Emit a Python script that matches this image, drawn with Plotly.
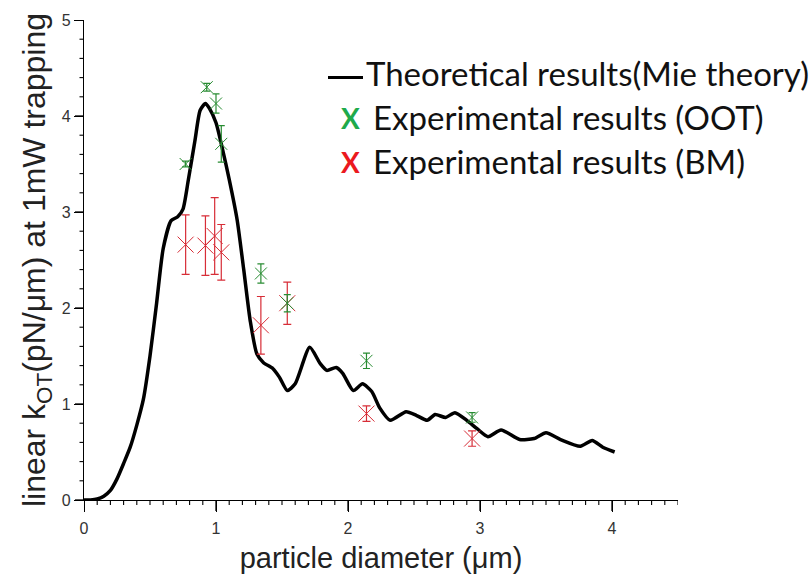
import plotly.graph_objects as go

# ---------------- data ----------------
theory_x = [0.0, 0.05, 0.1, 0.15, 0.2, 0.25, 0.3, 0.35, 0.4, 0.45, 0.5, 0.55, 0.6, 0.66,
            0.71, 0.75, 0.79, 0.84, 0.88, 0.92, 0.95, 1.0, 1.05, 1.1, 1.16, 1.21, 1.26,
            1.31, 1.36, 1.43, 1.48, 1.54, 1.6, 1.71, 1.79, 1.84, 1.91, 1.96, 2.04, 2.11,
            2.18, 2.24, 2.32, 2.44, 2.52, 2.6, 2.66, 2.74, 2.81, 2.9, 2.98, 3.06, 3.16,
            3.3, 3.41, 3.5, 3.61, 3.76, 3.85, 3.93, 4.02]
theory_y = [0.0, 0.0, 0.01, 0.04, 0.1, 0.22, 0.38, 0.55, 0.78, 1.05, 1.5, 2.05, 2.62, 2.91,
            2.95, 3.03, 3.33, 3.74, 4.06, 4.13, 4.08, 3.93, 3.65, 3.34, 2.92, 2.4, 1.86,
            1.52, 1.43, 1.37, 1.28, 1.14, 1.21, 1.59, 1.42, 1.35, 1.38, 1.32, 1.14, 1.21,
            1.13, 0.96, 0.83, 0.92, 0.88, 0.83, 0.89, 0.86, 0.91, 0.83, 0.74, 0.66, 0.73,
            0.63, 0.64, 0.7, 0.63, 0.56, 0.62, 0.55, 0.5]

oot_x = [0.77, 0.93, 1.00, 1.04, 1.34, 1.54, 2.14, 2.94]
oot_y = [3.50, 4.30, 4.13, 3.71, 2.36, 2.05, 1.45, 0.86]
oot_err = [0.03, 0.04, 0.10, 0.19, 0.10, 0.09, 0.08, 0.05]

bm_x = [0.77, 0.92, 0.99, 1.04, 1.34, 1.54, 2.14, 2.94]
bm_y = [2.66, 2.65, 2.75, 2.58, 1.82, 2.05, 0.90, 0.64]
bm_err = [0.31, 0.31, 0.40, 0.29, 0.30, 0.22, 0.08, 0.08]

x_ticks = [0, 1, 2, 3, 4]
y_ticks = [0, 1, 2, 3, 4, 5]
x_minor = [i / 10 for i in range(0, 46) if i % 10 != 0]
y_minor = [i / 5 for i in range(0, 26) if i % 5 != 0]

legend_labels = ["Theoretical results(Mie theory)",
                 "Experimental results (OOT)",
                 "Experimental results (BM)"]

# ---------------- layout geometry ----------------
W, H = 812, 585
ML, MR, MT, MB = 84, 134, 15, 85
PW, PH = W - ML - MR, H - MT - MB


def px(xp):
    return (xp - ML) / PW


def py(yp):
    return (H - MB - yp) / PH


GREEN = "rgb(40,140,50)"
RED = "rgb(215,45,55)"
LEG_GREEN = "rgb(30,170,75)"
LEG_RED = "rgb(235,25,30)"

fig = go.Figure()

fig.add_trace(go.Scatter(
    x=theory_x, y=theory_y, mode="lines",
    line=dict(color="black", width=3.5, shape="spline", smoothing=0.6),
    showlegend=False, hoverinfo="skip"))

fig.add_trace(go.Scatter(
    x=bm_x, y=bm_y, mode="markers",
    marker=dict(symbol="x-thin", size=16, line=dict(color=RED, width=1)),
    error_y=dict(type="data", array=bm_err, visible=True, color=RED,
                 thickness=1.2, width=4),
    showlegend=False))

fig.add_trace(go.Scatter(
    x=oot_x, y=oot_y, mode="markers",
    marker=dict(symbol="x-thin", size=12, line=dict(color=GREEN, width=1)),
    error_y=dict(type="data", array=oot_err, visible=True, color=GREEN,
                 thickness=1.2, width=3.5),
    showlegend=False))

SANS = "Liberation Sans, Arial, sans-serif"
tick_font = dict(family=SANS, size=16, color="#333333")

fig.update_layout(
    xaxis=dict(
        range=[0, 4.5], tickmode="array", tickvals=x_ticks, ticktext=[str(v) for v in x_ticks],
        showline=True, linecolor="black", linewidth=1.3, mirror=False,
        ticks="outside", ticklen=11, tickwidth=1.3, tickcolor="black",
        ticklabelstandoff=3,
        showgrid=False, zeroline=False, tickfont=tick_font,
        title=dict(text="particle diameter (μm)",
                   font=dict(family=SANS, size=29, color="#222222"), standoff=11)),
    yaxis=dict(
        range=[0, 5], tickmode="array", tickvals=y_ticks, ticktext=[str(v) for v in y_ticks],
        showline=True, linecolor="black", linewidth=1.3, mirror=False,
        ticks="outside", ticklen=9, tickwidth=1.3, tickcolor="black",
        showgrid=False, zeroline=False, tickfont=tick_font,
        title=dict(text="linear k<sub>OT</sub>(pN/μm) at 1mW trapping",
                   font=dict(family=SANS, size=32, color="#222222"), standoff=6)),
)

# tick marks drawn explicitly as axis decorations
shapes = []
for v in x_ticks:
    shapes.append(dict(type="line", xref="x", yref="paper", x0=v, x1=v,
                       y0=0, y1=-11 / PH, line=dict(color="black", width=1.3), layer="above"))
for v in x_minor:
    shapes.append(dict(type="line", xref="x", yref="paper", x0=v, x1=v,
                       y0=0, y1=-5 / PH, line=dict(color="black", width=1.1), layer="above"))
for v in y_ticks:
    shapes.append(dict(type="line", xref="paper", yref="y", x0=0, x1=-9 / PW,
                       y0=v, y1=v, line=dict(color="black", width=1.3), layer="above"))
for v in y_minor:
    shapes.append(dict(type="line", xref="paper", yref="y", x0=0, x1=-4.5 / PW,
                       y0=v, y1=v, line=dict(color="black", width=1.1), layer="above"))
# legend line sample
shapes.append(dict(type="line", xref="paper", yref="paper",
                   x0=px(328), x1=px(363), y0=py(73), y1=py(73),
                   line=dict(color="black", width=3)))

leg_font = dict(family="Lato, Open Sans, sans-serif", size=33, color="#111111")
annotations = []
rows_y = [69, 113, 157]
text_left = [365, 372, 372]
for i, lab in enumerate(legend_labels):
    annotations.append(dict(
        x=px(text_left[i]), y=py(rows_y[i]), xref="paper", yref="paper",
        text=lab, showarrow=False, xanchor="left", yanchor="middle",
        borderpad=0, font=leg_font))
for i, col in [(1, LEG_GREEN), (2, LEG_RED)]:
    annotations.append(dict(
        x=px(350), y=py(rows_y[i] + 1), xref="paper", yref="paper",
        text="<b>X</b>", showarrow=False, xanchor="center", yanchor="middle",
        borderpad=0, font=dict(family="Lato, Open Sans, sans-serif", size=28, color=col)))

fig.update_layout(
    width=W, height=H,
    margin=dict(l=ML, r=MR, t=MT, b=MB),
    paper_bgcolor="white", plot_bgcolor="white",
    annotations=annotations,
    shapes=shapes,
)

fig.write_html("out.html")
